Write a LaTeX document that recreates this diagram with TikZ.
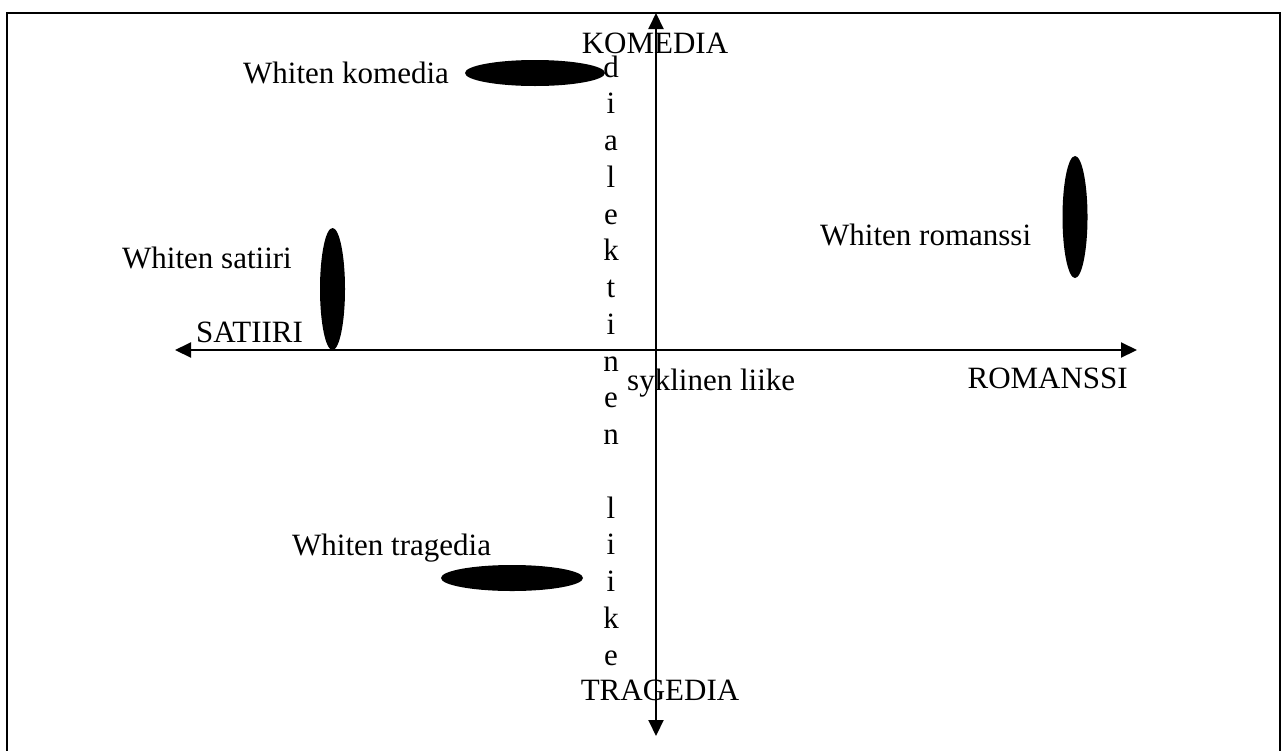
\documentclass[tikz,border=0pt]{standalone}
\usepackage{fontspec}
\setmainfont{Liberation Serif}
\usetikzlibrary{arrows.meta}
\tikzset{
  lab/.style={inner sep=0pt, font=\fontsize{31}{36}\selectfont},
  axis/.style={line width=2pt, -{Triangle[length=16pt,width=15pt]}},
  blob/.style={fill=black, draw=none}
}
\begin{document}
\begin{tikzpicture}[x=1pt,y=-1pt]
\useasboundingbox (0,0) rectangle (1281,750);
\clip (0,0) rectangle (1281,750);
\fill[white] (0,0) rectangle (1281,750);
\draw[line width=2.5pt] (7,13) rectangle (1280,780);
% axes
\coordinate (c) at (656,350);
\coordinate (xl) at (175,350);
\coordinate (xr) at (1137,350);
\coordinate (yt) at (656,13);
\coordinate (yb) at (656,736);
\draw[axis] (c) -- (xl);
\draw[axis] (c) -- (xr);
\draw[axis] (c) -- (yt);
\draw[axis] (c) -- (yb);
% ellipses
\fill[blob] (535,73) ellipse [x radius=70, y radius=13];
\fill[blob] (332.5,289) ellipse [x radius=12.5, y radius=61];
\fill[blob] (1075,217) ellipse [x radius=12.5, y radius=61];
\fill[blob] (512,578) ellipse [x radius=71, y radius=13];
% axis labels
\node[lab,anchor=base] (kom) at (655,53) {KOMEDIA};
\node[lab,anchor=base] (tra) at (660,700) {TRAGEDIA};
\node[lab,anchor=base west] (sat) at (196,342) {SATIIRI};
\node[lab,anchor=base east] (rom) at (1128,388) {ROMANSSI};
\node[lab,anchor=base west] (syk) at (627,390) {syklinen liike};
% White labels
\node[lab,anchor=base west] (wk) at (243,83) {Whiten komedia};
\node[lab,anchor=base west] (ws) at (122,268) {Whiten satiiri};
\node[lab,anchor=base west] (wr) at (820,245) {Whiten romanssi};
\node[lab,anchor=base west] (wt) at (292,555) {Whiten tragedia};
% vertical text
\foreach \ch [count=\i] in {d,i,a,l,e,k,t,i,n,e,n,{},l,i,i,k,e}
  \node[lab,anchor=base] (v\i) at (611,{77+36.75*(\i-1)}) {\ch};
\end{tikzpicture}
\end{document}
